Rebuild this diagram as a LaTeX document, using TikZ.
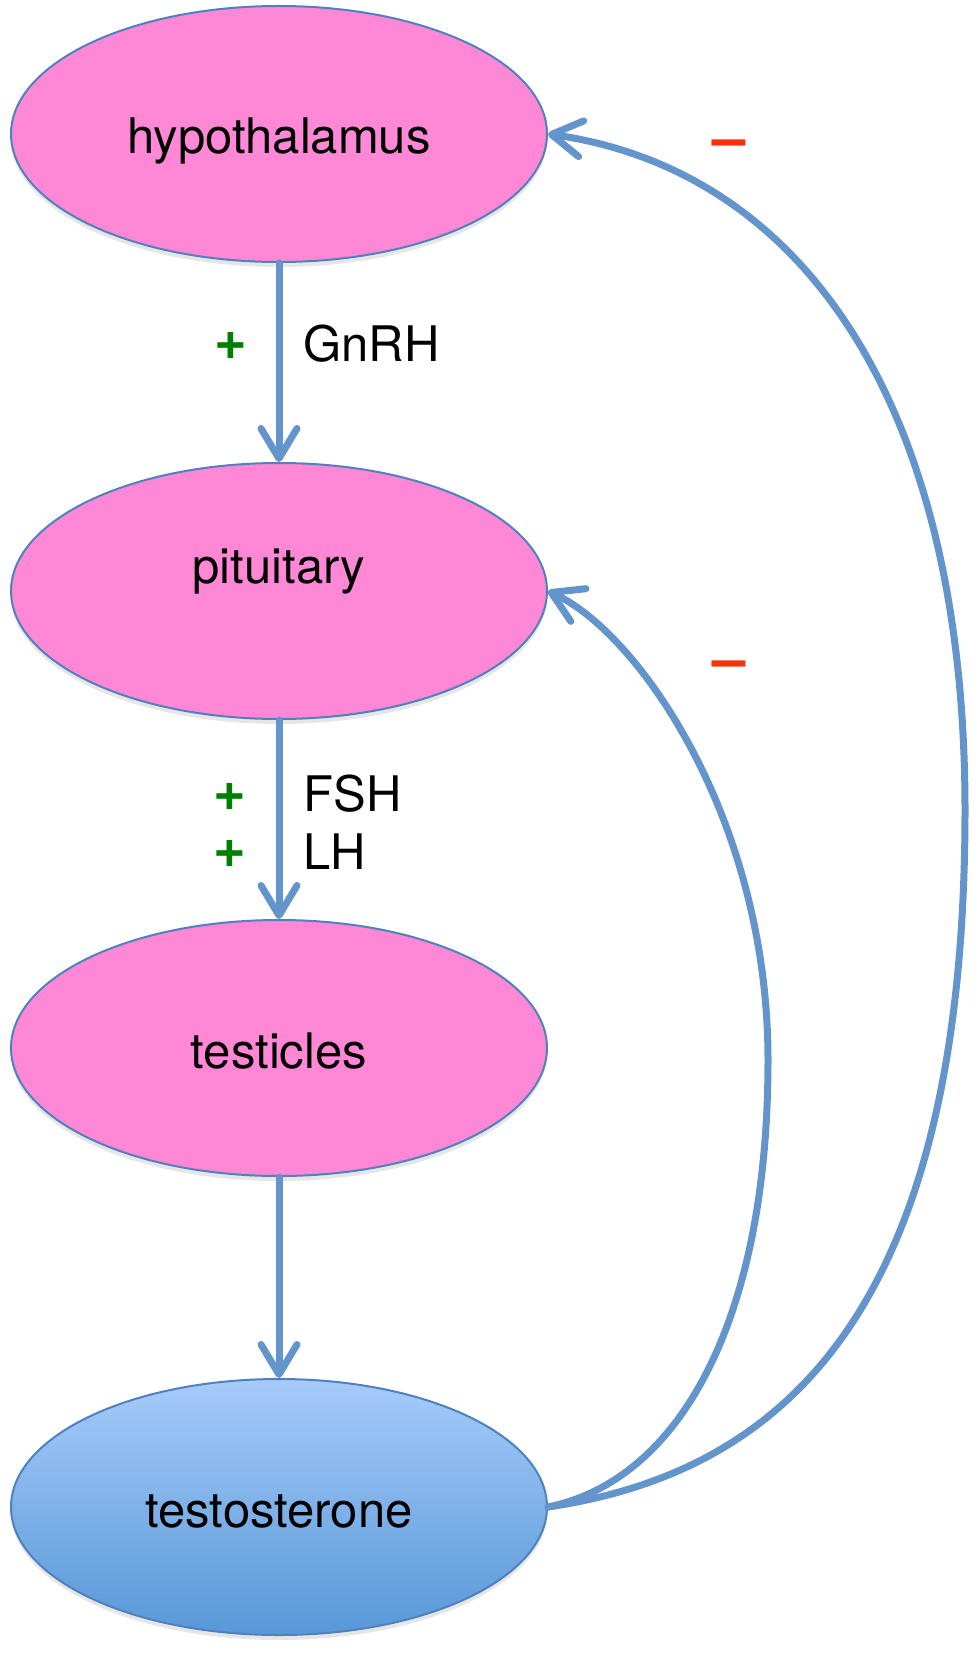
\documentclass[tikz,border=0pt]{standalone}
\usepackage{fontspec}
\setmainfont{TeX Gyre Heros}
\usetikzlibrary{arrows.meta,shapes.geometric,shadows}
\definecolor{organpink}{RGB}{255,136,214}
\definecolor{rimblue}{RGB}{79,129,189}
\definecolor{linkblue}{RGB}{99,148,204}
\definecolor{toptone}{RGB}{166,203,250}
\definecolor{lowtone}{RGB}{88,152,216}
\definecolor{plusgreen}{RGB}{0,128,0}
\definecolor{minusred}{RGB}{245,50,10}
\tikzset{
  >={Straight Barb[length=15pt,width=18pt,round]},
  organ/.style = {ellipse, draw=rimblue, line width=1pt, fill=#1,
                  minimum width=268pt, minimum height=128pt,
                  text height=25pt, text depth=5pt,
                  font=\fontsize{24.5}{29}\selectfont,
                  drop shadow={shadow xshift=0pt, shadow yshift=-2.5pt,
                               opacity=.2}},
  organ/.default = organpink,
  hormone/.style = {organ, top color=toptone, bottom color=lowtone},
  link/.style = {line width=3.5pt, draw=linkblue, ->, line cap=round},
  tag/.style = {anchor=base west, inner sep=0pt,
                font=\fontsize{24.5}{29}\selectfont},
  plus/.style = {text=plusgreen, inner sep=0pt,
                 font=\fontsize{28}{30}\selectfont\bfseries},
  minus/.style = {anchor=base, text=minusred,
                  font=\fontsize{30}{32}\selectfont\bfseries},
}
\begin{document}
\begin{tikzpicture}[x=0.5pt,y=-0.5pt]
\useasboundingbox (0,0) rectangle (979,1653);
\node[organ] (hyp) at (279,134) {hypothalamus};
\node[organ, text depth=33pt] (pit) at (279,591) {pituitary};
\node[organ] (tes) at (279,1048) {testicles};
\node[hormone] (tst) at (279,1507) {testosterone};
% stimulating hormones
\path[link] (hyp) edge (pit);
\path[link] (pit) edge (tes);
\path[link] (tes) edge (tst);
\node[plus] (p1) at (231,346) {+};
\node[tag] (gnrh) at (303,361) {GnRH};
\node[plus] (p2) at (230,797) {+};
\node[tag] (fsh) at (303,811) {FSH};
\node[plus] (p3) at (230,854) {+};
\node[tag] (lh) at (303,869) {LH};
% negative feedback
\draw[link] (tst.east) .. controls (800,1470) and (965,1290) .. (965,810)
  .. controls (965,400) and (800,170) .. (hyp.east);
\draw[link] (tst.east) .. controls (680,1480) and (768,1320) .. (768,1060)
  .. controls (768,820) and (639,633) .. (pit.east);
\node[minus] (m1) at (729,159) {–};
\node[minus] (m2) at (729,679) {–};
\end{tikzpicture}
\end{document}
